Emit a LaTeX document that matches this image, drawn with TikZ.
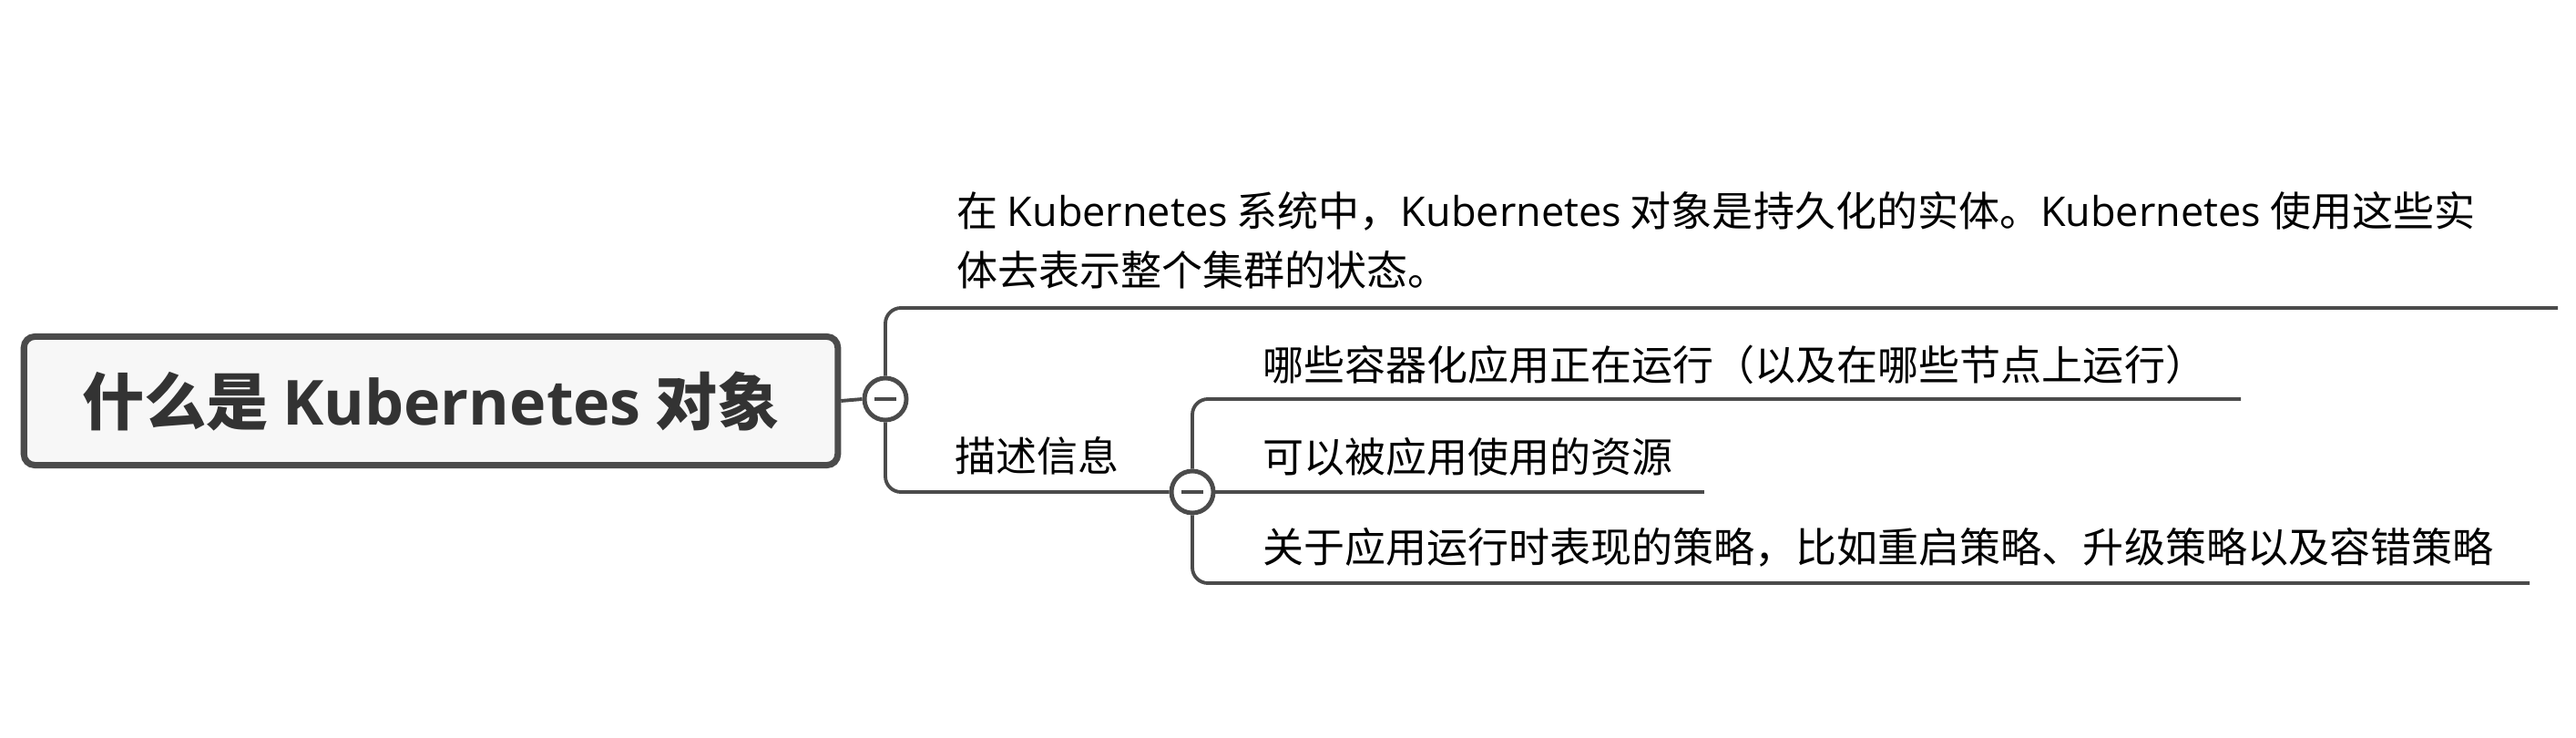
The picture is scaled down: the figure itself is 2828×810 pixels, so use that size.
\documentclass[tikz,border=0pt]{standalone}
\usepackage{fontspec}
\setmainfont{Noto Sans CJK SC}
\newfontfamily\lat{Open Sans}
\usetikzlibrary{calc}
\definecolor{linegray}{HTML}{4B4B4B}
\definecolor{rootfill}{HTML}{F7F7F7}
\definecolor{roottext}{HTML}{333333}

\begin{document}
\begin{tikzpicture}[x=0.01cm, y=-0.01cm,
                link/.style={draw=linegray, line width=1.1pt, rounded corners=0.17cm},
                fold/.style={circle, draw=linegray, fill=white, line width=1.4pt, minimum size=0.46cm, inner sep=0pt},
                rootbox/.style={draw=linegray, fill=rootfill, line width=2pt, rounded corners=0.12cm,
                    minimum width=8.93cm, minimum height=1.41cm, text=roottext,
                    font=\fontsize{19.4}{23}\selectfont\bfseries},
                leaf/.style={anchor=west, inner sep=0pt, font=\fontsize{12.8}{18.5}\selectfont, align=left}]
                \def\K{{\lat Kubernetes}}
                \def\Root{什么是 \K{} 对象}
                \def\Intro{在 \K{} 系统中，\K{} 对象是持久化的实体。\K{} 使用这些实\\体去表示整个集群的状态。}
                \def\Desc{描述信息}
                \def\Apps{哪些容器化应用正在运行（以及在哪些节点上运行）}
                \def\Res{可以被应用使用的资源}
                \def\Policy{关于应用运行时表现的策略，比如重启策略、升级策略以及容错策略}
                \useasboundingbox (0,0) rectangle (2828,810);
                \node[rootbox] (root) at (473,440) {\Root};
                \node[fold] (f1) at (972,438) {};
                \node[fold] (f2) at (1309,540) {};
                \coordinate (intro-end) at (2808,338);
                \coordinate (apps-end) at (2460,438);
                \coordinate (res-end) at (1871,540);
                \coordinate (policy-end) at (2777,640);
                \node[leaf] (intro) at (1050,264) {\Intro};
                \node[leaf] (desc) at (1048,500) {\Desc};
                \node[leaf] (apps) at (1386,400) {\Apps};
                \node[leaf] (res) at (1386,501) {\Res};
                \node[leaf] (policy) at (1386,601) {\Policy};
                \draw[link] (root.east) -- (f1.west);
                \draw[link] (f1.north) |- (intro-end);
                \draw[link] (f1.south) |- (f2.west);
                \draw[link] (f2.north) |- (apps-end);
                \draw[link] (f2.east) -- (res-end);
                \draw[link] (f2.south) |- (policy-end);
                % minus signs on the fold buttons
                \foreach \f in {f1,f2}
                    \draw[linegray, line width=1.4pt] ([xshift=-0.12cm]\f.center) -- ([xshift=0.12cm]\f.center);
\end{tikzpicture}
\end{document}
